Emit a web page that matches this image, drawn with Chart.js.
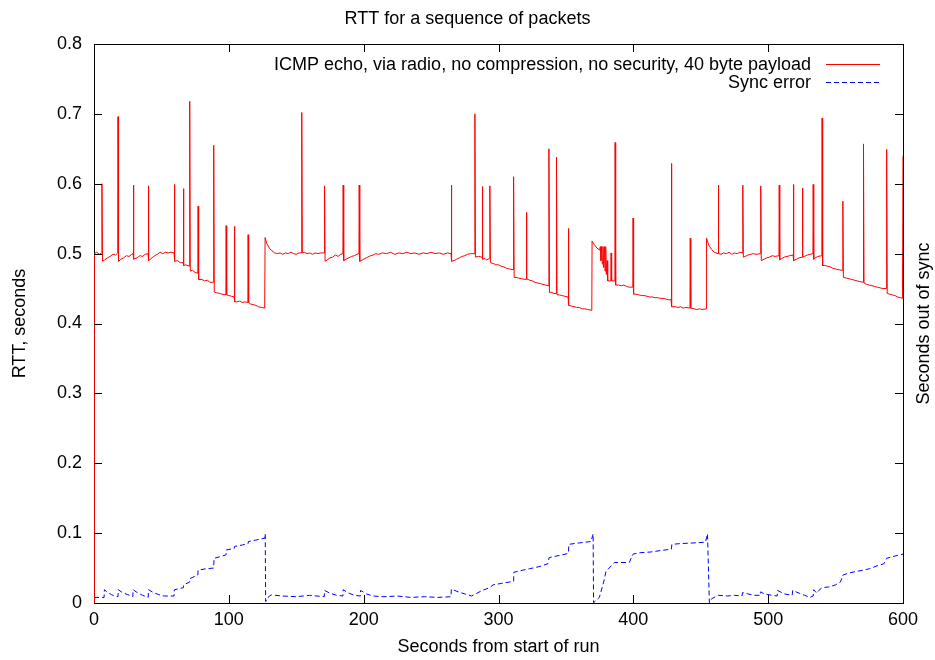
<!DOCTYPE html>
<html><head><meta charset="utf-8">
<script src="https://cdn.jsdelivr.net/npm/chart.js@4/dist/chart.umd.min.js"></script>
<style>html,body{margin:0;padding:0;background:#fff}canvas{display:block}</style>
</head><body>
<canvas id="c" width="935" height="660"></canvas>
<script>
const chartTitle = 'RTT for a sequence of packets';
const xAxisTitle = 'Seconds from start of run';
const yAxisTitle = 'RTT, seconds';
const y2AxisTitle = 'Seconds out of sync';
const seriesLabels = ['ICMP echo, via radio, no compression, no security, 40 byte payload', 'Sync error'];
const xTickValues = [0, 100, 200, 300, 400, 500, 600];
const xTickLabels = ['0', '100', '200', '300', '400', '500', '600'];
const yTickValues = [0, 0.1, 0.2, 0.3, 0.4, 0.5, 0.6, 0.7, 0.8];
const yTickLabels = ['0', '0.1', '0.2', '0.3', '0.4', '0.5', '0.6', '0.7', '0.8'];

// [seconds, RTT seconds]
const rttPoints = [
[0,0.0],[0.3,0.500],[2,0.502],[4,0.499],[5.7,0.501],[5.9,0.600],[6.3,0.489],[8,0.491],[10,0.494],[12,0.496],[14,0.499],[16,0.498],
[17.6,0.501],[17.8,0.696],[18.2,0.489],[20,0.492],[22,0.494],[24,0.497],[26,0.496],[28,0.499],[29.0,0.500],[29.2,0.598],[29.6,0.492],
[32,0.494],[34,0.497],[36,0.496],[38,0.499],[40.1,0.500],[40.3,0.597],[40.7,0.490],[43,0.494],[45,0.497],[47,0.499],[49,0.502],[51,0.500],
[53,0.502],[55,0.501],[57,0.502],[59.4,0.501],[59.6,0.599],[60.0,0.489],[62,0.490],[64,0.487],[66.1,0.487],[66.3,0.593],[66.7,0.483],
[68,0.484],[70.8,0.482],[71.0,0.718],[71.4,0.475],[73,0.476],[75,0.473],[77.0,0.472],[77.2,0.568],[77.6,0.463],[80,0.463],[82,0.461],
[84,0.462],[86,0.459],[88.6,0.459],[88.8,0.655],[89.2,0.445],[91,0.444],[93,0.443],[95,0.442],[97.8,0.441],[98.0,0.540],[98.4,0.441],
[100,0.440],[102,0.439],[103.9,0.438],[104.1,0.539],[104.5,0.431],[106,0.431],[108,0.432],[110,0.430],[112,0.431],[114.1,0.430],
[114.3,0.527],[114.7,0.430],[116,0.428],[118,0.427],[120,0.426],[122,0.424],[124,0.423],[126.6,0.422],[126.9,0.523],[128,0.515],
[130,0.508],[132,0.504],[134,0.501],[136,0.500],[138,0.501],[140,0.499],[142,0.501],[144,0.500],[146,0.502],[148,0.500],[150,0.499],
[152,0.501],[153.9,0.501],[154.1,0.702],[154.5,0.501],[156,0.502],[158,0.500],[160,0.501],[162,0.499],[164,0.501],[166,0.500],[168,0.501],
[170.8,0.501],[171.0,0.597],[171.4,0.489],[173,0.491],[175,0.494],[177,0.495],[179,0.498],[181,0.496],[183,0.499],[184.6,0.500],
[184.8,0.598],[185.2,0.490],[187,0.492],[189,0.494],[191,0.496],[193,0.497],[195,0.499],[196.5,0.500],[196.7,0.598],[197.1,0.489],
[199,0.491],[201,0.493],[203,0.495],[205,0.497],[207,0.498],[209,0.500],[211,0.499],[214,0.501],[217,0.500],[220,0.502],[223,0.499],
[226,0.501],[229,0.500],[232,0.502],[235,0.500],[238,0.501],[241,0.499],[244,0.501],[247,0.500],[250,0.502],[253,0.500],[256,0.501],
[259,0.499],[262,0.501],[264.8,0.500],[265.0,0.598],[265.4,0.489],[267,0.490],[269,0.492],[271,0.494],[273,0.496],[275,0.497],[277,0.499],
[279,0.500],[282.3,0.500],[282.5,0.700],[282.9,0.495],[285,0.496],[287.8,0.495],[288.0,0.596],[288.4,0.492],[290,0.493],[291,0.491],
[293.4,0.493],[293.6,0.597],[294.0,0.487],[296,0.486],[298,0.484],[300,0.484],[302,0.482],[304,0.481],[306,0.479],[308,0.478],
[311.0,0.477],[311.2,0.610],[311.6,0.466],[313,0.466],[315,0.465],[317,0.464],[320.5,0.463],[320.7,0.559],[321.1,0.464],[323,0.462],
[325,0.461],[327,0.459],[329,0.458],[331,0.457],[333,0.456],[335,0.455],[337.2,0.454],[337.4,0.650],[337.8,0.444],[339,0.445],[341,0.443],
[342.8,0.443],[343.0,0.638],[343.4,0.441],[345,0.441],[347,0.440],[349,0.439],[351.6,0.438],[351.8,0.536],[352.2,0.426],[354,0.425],
[356,0.424],[358,0.423],[360,0.423],[362,0.421],[364,0.421],[366,0.420],[369.2,0.419],[369.4,0.518],[371,0.513],[373,0.508],[375,0.505],
[375.5,0.510],[376,0.490],[376.5,0.510],[377,0.485],[377.5,0.510],[378,0.480],[378.5,0.510],[379,0.475],[379.5,0.510],[380,0.470],
[380.5,0.490],[381,0.461],[382,0.461],[383.3,0.461],[383.5,0.501],[383.9,0.461],[386.3,0.461],[386.5,0.659],[386.9,0.455],[389,0.455],
[391,0.454],[393,0.455],[395,0.453],[397,0.452],[399.6,0.452],[399.8,0.551],[400.2,0.442],[402,0.442],[404,0.441],[406,0.440],[408,0.440],
[410,0.439],[412,0.438],[414,0.438],[416,0.437],[418,0.437],[420,0.436],[422,0.436],[424,0.435],[426,0.434],[428.0,0.434],[428.2,0.629],
[428.6,0.424],[431,0.424],[433,0.423],[435,0.424],[437,0.422],[439,0.423],[442.0,0.422],[442.2,0.522],[442.6,0.422],[445,0.421],[447,0.420],
[449,0.421],[451,0.420],[454.1,0.421],[454.3,0.522],[456,0.512],[458,0.506],[460,0.502],[462.8,0.500],[463.0,0.598],[463.4,0.500],
[465,0.499],[467,0.501],[469,0.500],[471,0.502],[473,0.499],[475,0.501],[477,0.500],[479,0.502],[481.0,0.501],[481.2,0.598],[481.6,0.495],
[483,0.496],[485,0.498],[487,0.499],[489,0.500],[491,0.499],[494.3,0.500],[494.5,0.597],[494.9,0.490],[497,0.492],[499,0.494],[501,0.495],
[503,0.497],[505,0.496],[508.0,0.497],[508.2,0.598],[508.6,0.491],[510,0.493],[512,0.495],[514,0.496],[516,0.497],[518.5,0.498],
[518.7,0.599],[519.1,0.490],[521,0.492],[523,0.494],[525.2,0.495],[525.4,0.594],[525.8,0.495],[527,0.496],[529,0.498],[531,0.499],
[533.2,0.500],[533.4,0.599],[533.8,0.492],[535,0.494],[537,0.496],[539.8,0.497],[540.0,0.694],[540.4,0.483],[542,0.483],[544,0.482],
[546,0.481],[548,0.479],[550,0.478],[552,0.477],[555.2,0.476],[555.4,0.575],[555.8,0.466],[558,0.465],[560,0.464],[562,0.463],[564,0.462],
[566,0.461],[568,0.460],[570.5,0.459],[570.7,0.657],[571.1,0.458],[573,0.456],[575,0.455],[577,0.454],[579,0.453],[581,0.452],[583,0.451],
[585,0.450],[587.7,0.450],[587.9,0.649],[588.3,0.443],[590,0.442],[592,0.441],[594,0.440],[596,0.438],[598,0.437],[599.6,0.436],[600,0.640]
];

// [seconds, sync error seconds]
const syncPoints = [
[0,0.008],[7.5,0.008],[7.7,0.019],[10,0.015],[13,0.012],[15,0.010],[17.8,0.009],[18.0,0.019],[21,0.015],[25,0.012],[28.8,0.009],
[29.0,0.019],[32,0.015],[36,0.011],[40.2,0.008],[40.4,0.019],[44,0.015],[48,0.012],[52,0.010],[59.4,0.010],[59.6,0.019],[62,0.020],
[66.3,0.022],[66.5,0.026],[71,0.030],[71.2,0.035],[77,0.040],[77.2,0.047],[83,0.049],[88.8,0.050],[89,0.064],[93,0.066],[98,0.069],
[98.2,0.076],[104,0.078],[104.2,0.081],[110,0.083],[114.3,0.085],[114.5,0.088],[120,0.090],[126.8,0.093],[127.0,0.099],[127.3,0.002],
[130,0.010],[131.5,0.0115],[140,0.010],[150,0.009],[160,0.011],[170.8,0.009],[171.0,0.018],[175,0.014],[180,0.011],[184.6,0.010],
[184.8,0.019],[188,0.015],[193,0.011],[197.5,0.010],[197.7,0.018],[202,0.013],[207,0.010],[215,0.009],[225,0.010],[235,0.008],[245,0.009],
[255,0.008],[264.8,0.009],[265.0,0.020],[270,0.016],[275,0.013],[280,0.010],[283,0.013],[288,0.018],[293.6,0.022],[296,0.026],[302,0.028],
[308,0.030],[311.2,0.031],[311.4,0.044],[318,0.047],[323,0.049],[330,0.052],[336.5,0.056],[337.6,0.065],[345,0.068],[351.8,0.071],
[352.2,0.084],[360,0.086],[368.6,0.088],[370.2,0.099],[370.5,0.0003],[374.8,0.008],[378,0.030],[379.7,0.045],[385.9,0.058],[397,0.058],
[399.8,0.070],[405,0.072],[413,0.073],[420,0.075],[428.2,0.077],[428.6,0.084],[435,0.085],[445,0.086],[453.5,0.087],[455.0,0.099],
[456.4,0.0003],[458,0.006],[463,0.011],[470,0.010],[475,0.011],[480.6,0.010],[481,0.015],[485,0.013],[490,0.011],[494.3,0.011],
[494.5,0.016],[497,0.013],[503,0.011],[506.7,0.010],[507,0.018],[512,0.013],[517.8,0.011],[518.2,0.018],[523,0.014],[527,0.011],
[531,0.008],[533.4,0.010],[533.8,0.019],[536,0.014],[537.6,0.018],[540,0.022],[545,0.023],[550,0.026],[553.6,0.030],[555.4,0.040],
[560,0.043],[565,0.045],[570.7,0.047],[575,0.049],[582,0.054],[585.7,0.056],[587.9,0.064],[595.6,0.068],[600,0.070]
];

const FONT = "'Liberation Sans', Arial, Helvetica, sans-serif";
const fnt = (s) => ({family: FONT, size: s, weight: 'normal'});

const inwardTicks = {
  id: 'inwardTicks',
  afterDatasetsDraw(chart) {
    const {ctx, chartArea: a, scales} = chart;
    const L = 8;
    ctx.save();
    ctx.strokeStyle = '#000';
    ctx.lineWidth = 1;
    ctx.beginPath();
    xTickValues.forEach((v, i) => {
      if (i === 0 || i === xTickValues.length - 1) return;
      const px = Math.round(scales.x.getPixelForValue(v)) + 0.5;
      ctx.moveTo(px, a.bottom); ctx.lineTo(px, a.bottom - L);
      ctx.moveTo(px, a.top); ctx.lineTo(px, a.top + L);
    });
    yTickValues.forEach((v, i) => {
      if (i === 0 || i === yTickValues.length - 1) return;
      const py = Math.round(scales.y.getPixelForValue(v)) + 0.5;
      ctx.moveTo(a.left, py); ctx.lineTo(a.left + L, py);
      ctx.moveTo(a.right, py); ctx.lineTo(a.right - L, py);
    });
    ctx.stroke();
    ctx.restore();
  }
};

const keyAndRightTitle = {
  id: 'keyAndRightTitle',
  afterDraw(chart) {
    const {ctx, chartArea: a} = chart;
    ctx.save();
    ctx.font = "18px " + FONT;
    ctx.fillStyle = '#000';
    ctx.textAlign = 'right';
    ctx.textBaseline = 'middle';
    const rows = [65, 83];
    const textRight = 811;
    const lineX0 = 826, lineX1 = 880;
    chart.data.datasets.forEach((ds, i) => {
      const y = rows[i];
      ctx.fillStyle = '#000';
      ctx.fillText(ds.label, textRight, y);
      ctx.beginPath();
      ctx.strokeStyle = ds.borderColor;
      ctx.lineWidth = 1;
      ctx.setLineDash(ds.borderDash || []);
      ctx.moveTo(lineX0, Math.round(y - 1) + 0.5);
      ctx.lineTo(lineX1, Math.round(y - 1) + 0.5);
      ctx.stroke();
    });
    ctx.setLineDash([]);
    // right axis title, reading bottom to top
    ctx.translate(924, (a.top + a.bottom) / 2);
    ctx.rotate(-Math.PI / 2);
    ctx.textAlign = 'center';
    ctx.fillStyle = '#000';
    ctx.fillText(y2AxisTitle, 0, 0);
    ctx.restore();
  }
};

new Chart(document.getElementById('c'), {
  type: 'line',
  data: {
    datasets: [
      {label: seriesLabels[0], data: rttPoints, borderColor: '#ff0000', borderWidth: 1, pointRadius: 0, tension: 0, xAxisID: 'x', yAxisID: 'y'},
      {label: seriesLabels[1], data: syncPoints, borderColor: '#0000ff', borderWidth: 1, borderDash: [5, 3], pointRadius: 0, tension: 0, xAxisID: 'x', yAxisID: 'y'}
    ]
  },
  options: {
    responsive: false,
    animation: false,
    devicePixelRatio: 1,
    layout: {padding: 0},
    events: [],
    plugins: {
      legend: {display: false},
      tooltip: {enabled: false},
      title: {display: true, text: chartTitle, color: '#000', font: fnt(18), padding: {top: 8, bottom: 14.4}}
    },
    scales: {
      x: {
        type: 'linear', position: 'bottom', min: 0, max: 600,
        afterBuildTicks: (s) => { s.ticks = xTickValues.map(v => ({value: v})); },
        ticks: {color: '#000', font: fnt(18), padding: 6, maxRotation: 0, autoSkip: false,
          callback: (v) => xTickLabels[xTickValues.indexOf(v)]},
        grid: {display: false, drawTicks: false},
        border: {display: true, color: '#000', width: 1},
        title: {display: true, text: xAxisTitle, color: '#000', font: fnt(18), padding: {top: 0, bottom: 2}},
        afterFit: (s) => { s.height = 57; }
      },
      x2: {
        type: 'linear', position: 'top', min: 0, max: 600,
        ticks: {display: false},
        grid: {display: false, drawTicks: false},
        border: {display: true, color: '#000', width: 1},
        afterFit: (s) => { s.height = 0; }
      },
      y: {
        type: 'linear', position: 'left', min: 0, max: 0.8,
        afterBuildTicks: (s) => { s.ticks = yTickValues.map(v => ({value: v})); },
        ticks: {color: '#000', font: fnt(18), padding: 12, autoSkip: false,
          callback: (v) => yTickLabels[yTickValues.findIndex(t => Math.abs(t - v) < 1e-9)]},
        grid: {display: false, drawTicks: false},
        border: {display: true, color: '#000', width: 1},
        title: {display: true, text: yAxisTitle, color: '#000', font: fnt(18), padding: {top: 9, bottom: 0}},
        afterFit: (s) => { s.width = 94; }
      },
      y2: {
        type: 'linear', position: 'right', min: 0, max: 0.8,
        ticks: {display: false},
        grid: {display: false, drawTicks: false},
        border: {display: true, color: '#000', width: 1},
        afterFit: (s) => { s.width = 32; }
      }
    }
  },
  plugins: [inwardTicks, keyAndRightTitle]
});
</script>
</body></html>
